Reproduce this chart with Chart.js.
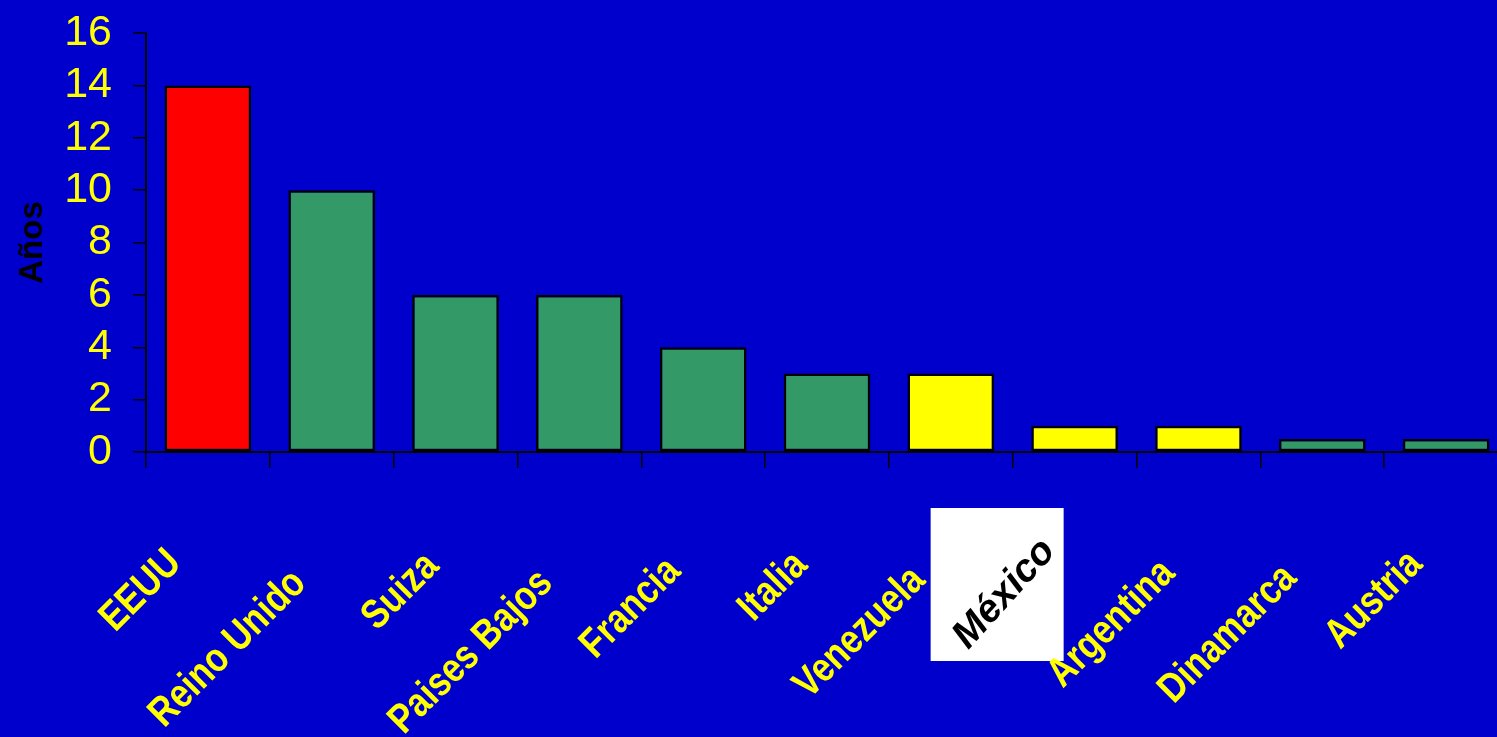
<!DOCTYPE html>
<html><head><meta charset="utf-8">
<script src="https://cdn.jsdelivr.net/npm/chart.js@4.4.1/dist/chart.umd.min.js"></script>
<style>
html,body{margin:0;padding:0;background:#0000cc;overflow:hidden;width:1497px;height:737px}
#wrap{position:relative;width:1510px;height:737px}
</style></head>
<body><div id="wrap"><canvas id="c"></canvas></div>
<script>
// ---- data ----
const categories = ['EEUU','Reino Unido','Suiza','Paises Bajos','Francia','Italia','Venezuela','México','Argentina','Dinamarca','Austria'];
const years = [14, 10, 6, 6, 4, 3, 3, 1, 1, 0.5, 0.5];
const groups = ['EEUU','Europa','Europa','Europa','Europa','Europa','Latinoamérica','Latinoamérica','Latinoamérica','Europa','Europa'];
const yMin = 0, yMax = 16, yStep = 2;
const yAxisTitle = 'Años';
const highlighted = 'México';

// ---- styles ----
const groupColors = { 'EEUU': '#ff0000', 'Europa': '#339966', 'Latinoamérica': '#ffff00' };
const labelNudgeX = [-25,-24,-15,-25,-21,-18,-24,-18,-22,-24,-22];
const labelNudgeY = [113,133,116,133,121,115,130,100,123,128,114];

const rotLabels = {
  id: 'rotLabels',
  afterDraw(chart) {
    const { ctx } = chart;
    const x = chart.scales.x;
    categories.forEach((lab, i) => {
      const ax = x.getPixelForValue(i) + labelNudgeX[i];
      const ay = x.top + labelNudgeY[i];
      ctx.save();
      if (lab === highlighted) {
        ctx.fillStyle = '#ffffff';
        ctx.fillRect(ax - 126, ay - 44, 133, 153);
        ctx.translate(ax, ay);
        ctx.rotate(-48 * Math.PI / 180);
        ctx.font = 'italic bold 39px "Liberation Sans", Arial, sans-serif';
        ctx.fillStyle = '#000000';
      } else {
        ctx.translate(ax, ay);
        ctx.rotate(-Math.PI / 4);
        ctx.scale(0.84, 1);
        ctx.font = 'bold 41px "Liberation Sans", Arial, sans-serif';
        ctx.fillStyle = '#ffff00';
      }
      ctx.textAlign = 'right';
      ctx.textBaseline = 'alphabetic';
      ctx.fillText(lab, 0, 0);
      ctx.restore();
    });
  }
};

new Chart(document.getElementById('c'), {
  type: 'bar',
  data: {
    labels: categories,
    datasets: [{
      data: years,
      backgroundColor: groups.map(g => groupColors[g]),
      borderColor: '#000000',
      borderWidth: 2.5,
      borderSkipped: false,
      barPercentage: 0.70,
      categoryPercentage: 1.0
    }]
  },
  options: {
    responsive: true,
    maintainAspectRatio: false,
    animation: false,
    layout: { padding: { top: 33, right: 2, left: 0, bottom: 0 } },
    plugins: { legend: { display: false }, tooltip: { enabled: false } },
    scales: {
      x: {
        grid: { display: true, drawOnChartArea: false, drawTicks: true, tickLength: 16, color: '#000000', lineWidth: 1.5, offset: true },
        border: { display: true, color: '#000000', width: 2 },
        ticks: { display: false },
        afterFit(scale) { scale.height = 285; scale.paddingLeft = 0; scale.paddingRight = 0; }
      },
      y: {
        min: yMin, max: yMax,
        grid: { display: true, drawOnChartArea: false, drawTicks: true, tickLength: 13, color: '#000000', lineWidth: 1.5 },
        border: { display: true, color: '#000000', width: 2 },
        ticks: {
          stepSize: yStep,
          autoSkip: false,
          color: '#ffff00',
          padding: 21,
          font: { family: '"Liberation Sans", Arial, sans-serif', size: 43, lineHeight: 1 }
        },
        title: {
          display: true,
          text: yAxisTitle,
          color: '#000000',
          padding: { top: 15, bottom: 0 },
          font: { family: '"Liberation Sans", Arial, sans-serif', size: 33, weight: 'bold', lineHeight: 1.1 }
        },
        afterFit(scale) { scale.width = 146; scale.paddingTop = 0; scale.paddingBottom = 0; }
      }
    }
  },
  plugins: [rotLabels]
});
</script>
</body></html>
